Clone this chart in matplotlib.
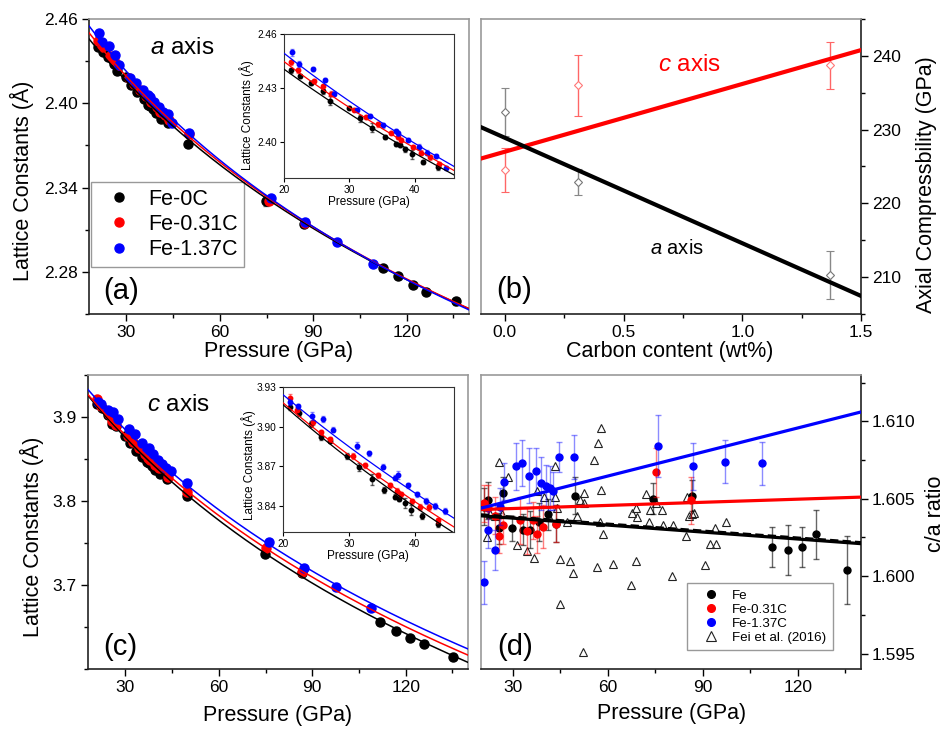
import numpy as np
import matplotlib
matplotlib.use("Agg")
import matplotlib.pyplot as plt
from matplotlib.ticker import MultipleLocator, FormatStrFormatter
from matplotlib.lines import Line2D

plt.rcParams["font.family"] = ["Liberation Sans", "DejaVu Sans"]
plt.rcParams["mathtext.fontset"] = "custom"
plt.rcParams["mathtext.rm"] = "Liberation Sans"
plt.rcParams["mathtext.it"] = "Liberation Sans:italic"

# ---------------- data ----------------
series_names = ["Fe-0C", "Fe-0.31C", "Fe-1.37C"]
series_colors = ["black", "red", "blue"]

# a axis lattice constants (Angstrom) vs pressure (GPa)
P_a_fe = [21.0, 22.4, 24.2, 25.9, 27.0, 29.9, 31.6, 33.5, 35.5, 37.1, 37.7, 38.5,
          39.5, 41.2, 43.5, 49.8, 74.9, 87.0, 112.4, 117.3, 122.0, 126.3, 135.9]
a_fe = [2.4398, 2.4368, 2.4328, 2.4282, 2.4230, 2.4190, 2.4131, 2.4079, 2.4029,
        2.3989, 2.3982, 2.3960, 2.3932, 2.3890, 2.3862, 2.3707, 2.3301, 2.3138,
        2.2828, 2.2769, 2.2710, 2.2660, 2.2590]
a_fe_err = [0.0012, 0.001, 0.0012, 0.0015, 0.0025, 0.0008, 0.002, 0.0025, 0.001,
            0.001, 0.001, 0.0015, 0.0025, 0.0012, 0.0015, 0.002, 0.003, 0.002,
            0.0015, 0.0018, 0.0012, 0.0015, 0.0025]
P_a_c031 = [21.0, 22.2, 24.6, 25.9, 27.2, 30.7, 32.5, 34.4, 36.3, 37.5, 37.9, 39.7,
            40.9, 42.3, 43.7, 50.0, 75.8, 87.2]
a_c031 = [2.4442, 2.4398, 2.4340, 2.4309, 2.4269, 2.4180, 2.4138, 2.4098, 2.4052,
          2.4029, 2.4011, 2.3972, 2.3941, 2.3914, 2.3880, 2.3778, 2.3305, 2.3145]
a_c031_err = [0.0015, 0.0012, 0.0012, 0.001, 0.0015, 0.001, 0.001, 0.0012, 0.001,
              0.001, 0.0012, 0.0012, 0.0015, 0.0012, 0.001, 0.002, 0.002, 0.002]
P_a_c137 = [21.2, 22.3, 24.5, 26.2, 27.6, 31.1, 33.1, 35.2, 37.1, 37.5, 39.0, 40.6,
            41.9, 43.3, 44.7, 50.0, 76.3, 87.2, 97.7, 109.3]
a_c137 = [2.4499, 2.4433, 2.4405, 2.4346, 2.4269, 2.4180, 2.4144, 2.4092, 2.4061,
          2.4048, 2.4011, 2.3972, 2.3941, 2.3923, 2.3858, 2.3790, 2.3324, 2.3157,
          2.3015, 2.2857]
a_c137_err = [0.002, 0.0015, 0.0012, 0.001, 0.0015, 0.001, 0.0012, 0.0012, 0.0012,
              0.0015, 0.0012, 0.0015, 0.0015, 0.0012, 0.001, 0.002, 0.002, 0.002,
              0.0015, 0.0015]

# c axis lattice constants
P_c_fe = [21.0, 22.5, 24.3, 25.8, 27.1, 29.8, 31.6, 33.5, 35.4, 37.1, 37.6, 38.5,
          39.5, 41.2, 43.5, 49.9, 74.7, 86.7, 111.8, 116.9, 121.5, 126.0, 135.3]
c_fe = [3.9149, 3.9103, 3.9020, 3.8922, 3.8894, 3.8776, 3.8695, 3.8599, 3.8519,
        3.8468, 3.8453, 3.8420, 3.8368, 3.8322, 3.8259, 3.8063, 3.7374, 3.7138,
        3.6555, 3.6457, 3.6366, 3.6303, 3.6142]
c_fe_err = [0.002, 0.002, 0.002, 0.0025, 0.002, 0.002, 0.003, 0.004, 0.002, 0.002,
            0.002, 0.004, 0.004, 0.002, 0.002, 0.003, 0.003, 0.003, 0.003, 0.003,
            0.003, 0.003, 0.004]
P_c_c031 = [21.0, 22.2, 24.6, 25.8, 27.1, 30.7, 32.4, 34.4, 36.3, 37.4, 37.9, 39.6,
            40.8, 42.2, 43.6, 49.9, 75.3, 86.8]
c_c031 = [3.9214, 3.9129, 3.9033, 3.8957, 3.8902, 3.8776, 3.8705, 3.8629, 3.8554,
          3.8511, 3.8486, 3.8433, 3.8390, 3.8390, 3.8289, 3.8110, 3.7441, 3.7157]
c_c031_err = [0.003, 0.002, 0.002, 0.002, 0.002, 0.002, 0.002, 0.002, 0.002, 0.002,
              0.002, 0.002, 0.002, 0.002, 0.002, 0.003, 0.003, 0.003]
P_c_c137 = [21.1, 22.3, 24.4, 26.1, 27.6, 31.2, 33.1, 35.2, 37.1, 37.5, 39.0, 40.4,
            41.7, 43.1, 44.6, 49.9, 76.1, 87.2, 97.5, 109.0]
c_c137 = [3.9184, 3.9154, 3.9078, 3.9057, 3.8977, 3.8856, 3.8796, 3.8695, 3.8612,
          3.8635, 3.8554, 3.8486, 3.8435, 3.8397, 3.8360, 3.8220, 3.7512, 3.7205,
          3.6980, 3.6732]
c_c137_err = [0.002, 0.002, 0.003, 0.002, 0.002, 0.003, 0.002, 0.002, 0.002, 0.003,
              0.002, 0.002, 0.002, 0.002, 0.002, 0.003, 0.003, 0.003, 0.003, 0.003]

# axial moduli (GPa) vs carbon content (wt%)
carbon = [0.0, 0.31, 1.37]
K_a = [232.4, 222.9, 210.3]
K_a_err = [3.3, 1.8, 3.3]
K_c = [224.5, 236.0, 238.7]
K_c_err = [3.0, 4.1, 3.2]
fit_K_a = (-14.3, 228.9)     # slope, intercept
fit_K_c = (9.19, 227.0)

# Murnaghan-type axial EOS fit parameters (x0, K' ; K0 from K_a / K_c)
a0_fit = [2.5018, 2.5084, 2.5165]
c0_fit = [4.0184, 4.0155, 4.0208]
Kp_a = 3.8
Kp_c = 3.7

# c/a ratio
P_r_fe = [20.8, 22.3, 25.8, 26.8, 29.9, 33.4, 35.5, 38.3, 41.0, 43.6, 49.6, 74.3,
          86.7, 111.8, 116.9, 121.4, 125.8, 135.5]
r_fe = [1.6045, 1.6049, 1.6031, 1.6054, 1.6031, 1.6030, 1.6030, 1.6035, 1.6040,
        1.6034, 1.6052, 1.6050, 1.6052, 1.6019, 1.6017, 1.6019, 1.6027, 1.6004]
r_fe_err = [0.0012, 0.0012, 0.0010, 0.0010, 0.0008, 0.0010, 0.0012, 0.0012, 0.0010,
            0.0012, 0.0012, 0.0010, 0.0010, 0.0013, 0.0016, 0.0013, 0.0016, 0.0022]
P_r_c031 = [20.8, 22.3, 24.4, 25.8, 27.1, 32.3, 34.6, 36.5, 37.8, 39.5, 43.6, 75.4, 86.2]
r_c031 = [1.6047, 1.6044, 1.6039, 1.6026, 1.6033, 1.6036, 1.6029, 1.6036, 1.6027,
          1.6032, 1.6034, 1.6067, 1.6049]
r_c031_err = [0.0012, 0.0015, 0.0012, 0.0011, 0.0012, 0.0015, 0.0015, 0.0012, 0.0012,
              0.0014, 0.0012, 0.0016, 0.0015]
P_r_c137 = [21.1, 22.3, 24.4, 26.0, 27.4, 30.9, 33.0, 35.1, 37.4, 38.8, 40.4, 41.8,
            42.8, 44.5, 49.4, 75.9, 87.1, 97.2, 108.8]
r_c137 = [1.5996, 1.6030, 1.6017, 1.6045, 1.6061, 1.6071, 1.6073, 1.6065, 1.6068,
          1.6060, 1.6058, 1.6057, 1.6055, 1.6077, 1.6077, 1.6084, 1.6071, 1.6074, 1.6073]
r_c137_err = [0.0014, 0.0012, 0.0013, 0.0012, 0.0012, 0.0015, 0.0015, 0.0018, 0.0015,
              0.0017, 0.0014, 0.0014, 0.0012, 0.0010, 0.0014, 0.0020, 0.0015, 0.0014,
              0.0014]
P_fei = [22.0, 22.9, 24.4, 25.7, 26.7, 28.6, 31.3, 34.4, 36.7, 37.8, 39.9, 41.4,
         43.3, 43.3, 43.9, 44.9, 44.9, 47.0, 48.1, 48.9, 50.4, 51.2, 52.5, 52.5,
         52.3, 55.7, 56.5, 56.8, 57.7, 57.8, 58.0, 58.6, 61.7, 67.3, 67.8, 68.8,
         69.1, 69.4, 72.0, 73.0, 73.3, 75.2, 77.3, 77.5, 80.2, 80.6, 84.8, 85.0,
         85.7, 86.6, 87.2, 90.6, 92.4, 93.8, 94.1, 97.4]
r_fei = [1.6025, 1.6040, 1.6039, 1.6074, 1.6040, 1.6064, 1.6020, 1.6016, 1.6012,
         1.6055, 1.6051, 1.6038, 1.6071, 1.6051, 1.6044, 1.6011, 1.5982, 1.6035,
         1.6010, 1.6002, 1.6039, 1.6049, 1.6054, 1.6047, 1.5951, 1.6075, 1.6006,
         1.6086, 1.6035, 1.6096, 1.6056, 1.6027, 1.6008, 1.5994, 1.6041, 1.6010,
         1.6044, 1.6038, 1.6053, 1.6035, 1.6043, 1.6047, 1.6043, 1.6033, 1.6000,
         1.6033, 1.6026, 1.6051, 1.6039, 1.6040, 1.6041, 1.6007, 1.6021, 1.6031,
         1.6021, 1.6035]
fit_r = [(-1.50e-5, 1.6042), (6.7e-6, 1.60417), (5.18e-5, 1.60336)]
fit_r_fei = (-1.5e-5, 1.6043)

W, H = 946, 731


def box(l, t, r, b):
    return [l / W, 1 - b / H, (r - l) / W, (b - t) / H]


def pt(x, y):
    return x / W, 1 - y / H


def murnaghan(P, x0, K0, Kp):
    return x0 * (1 + Kp * P / K0) ** (-1.0 / (3 * Kp))


def style(ax, right=False, major=5, minor=3, size=12.5):
    for s in ["top", "right", "left", "bottom"]:
        ax.spines[s].set_color("#999999")
        ax.spines[s].set_linewidth(1.2)
    ax.spines["bottom"].set_color("#222222")
    ax.spines["right" if right else "left"].set_color("#222222")
    ax.tick_params(which="both", direction="out", labelsize=size, width=1,
                   top=False, right=right, left=not right,
                   labelright=right, labelleft=not right)
    ax.tick_params(which="major", length=major, pad=3)
    ax.tick_params(which="minor", length=minor)


def dot_handles(colors, ms):
    return [Line2D([], [], ls="none", marker="o", color=c, ms=ms) for c in colors]


fig = plt.figure(figsize=(W / 100, H / 100), dpi=100)

P_a = [P_a_fe, P_a_c031, P_a_c137]
A = [a_fe, a_c031, a_c137]
A_err = [a_fe_err, a_c031_err, a_c137_err]
P_c = [P_c_fe, P_c_c031, P_c_c137]
C = [c_fe, c_c031, c_c137]
C_err = [c_fe_err, c_c031_err, c_c137_err]
ecol = [(0, 0, 0, 0.6), (1, 0, 0, 0.5), (0, 0, 1, 0.45)]


def lattice_panel(ax, Ps, Ys, Es, x0s, Ks, Kp, xlim, ms, lw):
    Pf = np.linspace(xlim[0], xlim[1], 300)
    for i in range(3):
        ax.errorbar(Ps[i], Ys[i], yerr=Es[i], fmt="o", color=series_colors[i],
                    ms=ms, ecolor=ecol[i], elinewidth=1, capsize=ms * 0.35,
                    zorder=2 + i)
    for i in range(3):
        ax.plot(Pf, murnaghan(Pf, x0s[i], Ks[i], Kp), color=series_colors[i],
                lw=lw, zorder=6)
    ax.set_xlim(*xlim)


def inset_style(ax):
    for s in ax.spines.values():
        s.set_color("#333333")
        s.set_linewidth(0.8)
    ax.set_xticks([20, 30, 40])
    ax.tick_params(labelsize=7.3, length=3, width=0.8, pad=2)


# ---------------- (a) ----------------
ax_a = fig.add_axes(box(89, 19, 469, 314))
lattice_panel(ax_a, P_a, A, A_err, a0_fit, K_a, Kp_a, (18, 140), 6.5, 1.1)
ax_a.set_ylim(2.25, 2.46)
ax_a.xaxis.set_major_locator(MultipleLocator(30))
ax_a.xaxis.set_minor_locator(MultipleLocator(15))
ax_a.set_yticks([2.28, 2.34, 2.40, 2.46])
ax_a.yaxis.set_major_formatter(FormatStrFormatter("%.2f"))
ax_a.yaxis.set_minor_locator(MultipleLocator(0.03))
style(ax_a)
ax_a.legend(dot_handles(series_colors, 6.5), series_names, loc="upper left",
            bbox_to_anchor=(0.005, 0.447), borderaxespad=0,
            fontsize=15.5, frameon=True, fancybox=False, edgecolor="#999999",
            framealpha=1, borderpad=0.3, handlelength=2.0, handletextpad=0.35,
            labelspacing=0.2)

ins_a = fig.add_axes(box(284, 34, 454, 178))
lattice_panel(ins_a, P_a, A, A_err, a0_fit, K_a, Kp_a, (20, 46), 3.2, 0.9)
ins_a.set_ylim(2.38, 2.46)
ins_a.set_yticks([2.40, 2.43, 2.46])
ins_a.yaxis.set_major_formatter(FormatStrFormatter("%.2f"))
inset_style(ins_a)

# ---------------- (b) ----------------
ax_b = fig.add_axes(box(481, 19, 861, 314))
xb = np.linspace(-0.1, 1.5, 10)
ax_b.plot(xb, fit_K_c[0] * xb + fit_K_c[1], color="red", lw=3, zorder=3)
ax_b.plot(xb, fit_K_a[0] * xb + fit_K_a[1], color="black", lw=3, zorder=3)
ax_b.errorbar(carbon, K_a, yerr=K_a_err, fmt="D", mfc="white", mec="#777777",
              ms=4.5, mew=0.8, ecolor="#888888", elinewidth=1, capsize=3, zorder=2)
ax_b.errorbar(carbon, K_c, yerr=K_c_err, fmt="D", mfc="white", mec="#ff7777",
              ms=4.5, mew=0.8, ecolor="#ff6666", elinewidth=1, capsize=3, zorder=2)
ax_b.set_xlim(-0.1, 1.5)
ax_b.set_ylim(205, 245)
ax_b.xaxis.set_major_locator(MultipleLocator(0.5))
ax_b.xaxis.set_minor_locator(MultipleLocator(0.25))
ax_b.xaxis.set_major_formatter(FormatStrFormatter("%.1f"))
ax_b.set_yticks([210, 220, 230, 240])
ax_b.yaxis.set_minor_locator(MultipleLocator(5))
style(ax_b, right=True)

# ---------------- (c) ----------------
ax_c = fig.add_axes(box(88, 375, 468, 669))
lattice_panel(ax_c, P_c, C, C_err, c0_fit, K_c, Kp_c, (18, 140), 6.5, 1.1)
ax_c.set_ylim(3.6, 3.95)
ax_c.xaxis.set_major_locator(MultipleLocator(30))
ax_c.xaxis.set_minor_locator(MultipleLocator(15))
ax_c.set_yticks([3.7, 3.8, 3.9])
ax_c.yaxis.set_minor_locator(MultipleLocator(0.05))
style(ax_c)

ins_c = fig.add_axes(box(283, 387, 454, 532))
lattice_panel(ins_c, P_c, C, C_err, c0_fit, K_c, Kp_c, (20, 46), 3.2, 0.9)
ins_c.set_ylim(3.82, 3.93)
ins_c.set_yticks([3.84, 3.87, 3.90, 3.93])
ins_c.yaxis.set_major_formatter(FormatStrFormatter("%.2f"))
inset_style(ins_c)

# ---------------- (d) ----------------
ax_d = fig.add_axes(box(481, 375, 861, 669))
ax_d.plot(P_fei, r_fei, "^", mfc="none", mec="#222222", ms=6, mew=0.8, zorder=2)
P_r = [P_r_fe, P_r_c031, P_r_c137]
R = [r_fe, r_c031, r_c137]
R_err = [r_fe_err, r_c031_err, r_c137_err]
legend_d = ["Fe", "Fe-0.31C", "Fe-1.37C", "Fei et al. (2016)"]
for i in range(3):
    ax_d.errorbar(P_r[i], R[i], yerr=R_err[i], fmt="o", color=series_colors[i],
                  ms=5, ecolor=ecol[i], elinewidth=1, capsize=2.5, zorder=3 + i)
xd = np.linspace(20, 140, 10)
ax_d.plot(xd, fit_r_fei[0] * xd + fit_r_fei[1], color="black", lw=1.5,
          ls=(0, (4, 2)), zorder=6)
for i in range(3):
    ax_d.plot(xd, fit_r[i][0] * xd + fit_r[i][1], color=series_colors[i],
              lw=2.3, zorder=7)
ax_d.set_xlim(20, 140)
ax_d.set_ylim(1.594, 1.613)
ax_d.xaxis.set_major_locator(MultipleLocator(30))
ax_d.xaxis.set_minor_locator(MultipleLocator(15))
ax_d.set_yticks([1.595, 1.600, 1.605, 1.610])
ax_d.yaxis.set_major_formatter(FormatStrFormatter("%.3f"))
ax_d.yaxis.set_minor_locator(MultipleLocator(0.0025))
style(ax_d, right=True)
handles_d = dot_handles(series_colors, 5.5) + [
    Line2D([], [], ls="none", marker="^", mfc="none", mec="#222222", ms=6.5, mew=0.8)]
ax_d.legend(handles_d, legend_d, loc="upper left",
            bbox_to_anchor=(0.542, 0.293), borderaxespad=0, fontsize=9.6,
            frameon=True, fancybox=False, edgecolor="#999999", framealpha=1,
            borderpad=0.5, handlelength=2.6, handletextpad=0.3, labelspacing=0.12)

# ---------------- labels and panel texts ----------------
big = 15.5
fig.text(*pt(22, 181), "Lattice Constants (Å)", rotation=90, ha="center", va="center", fontsize=big)
fig.text(*pt(279, 352), "Pressure (GPa)", ha="center", va="center", fontsize=big)
fig.text(*pt(670, 352), "Carbon content (wt%)", ha="center", va="center", fontsize=big)
fig.text(*pt(926, 185), "Axial Compressbility (GPa)", rotation=90, ha="center", va="center", fontsize=big)
fig.text(*pt(32, 537), "Lattice Constants (Å)", rotation=90, ha="center", va="center", fontsize=big)
fig.text(*pt(278, 716), "Pressure (GPa)", ha="center", va="center", fontsize=big)
fig.text(*pt(672, 714), "Pressure (GPa)", ha="center", va="center", fontsize=big)
fig.text(*pt(935, 514), "c/a ratio", rotation=90, ha="center", va="center", fontsize=big)

fig.text(*pt(247, 115), "Lattice Constants (Å)", rotation=90, ha="center", va="center", fontsize=8.5)
fig.text(*pt(369, 202), "Pressure (GPa)", ha="center", va="center", fontsize=8.5)
fig.text(*pt(249, 465), "Lattice Constants (Å)", rotation=90, ha="center", va="center", fontsize=8.5)
fig.text(*pt(368, 556), "Pressure (GPa)", ha="center", va="center", fontsize=8.5)

fig.text(*pt(182, 48), r"$\it{a}$ axis", ha="center", va="center", fontsize=17.5)
fig.text(*pt(179, 405), r"$\it{c}$ axis", ha="center", va="center", fontsize=17.5)
fig.text(*pt(690, 65), r"$\it{c}$ axis", ha="center", va="center", fontsize=17.5, color="red")
fig.text(*pt(677, 249), r"$\it{a}$ axis", ha="center", va="center", fontsize=14.5)
fig.text(*pt(121, 291), "(a)", ha="center", va="center", fontsize=21)
fig.text(*pt(514, 290), "(b)", ha="center", va="center", fontsize=21)
fig.text(*pt(120, 647), "(c)", ha="center", va="center", fontsize=21)
fig.text(*pt(515, 647), "(d)", ha="center", va="center", fontsize=21)

fig.savefig("out.png", dpi=100)
